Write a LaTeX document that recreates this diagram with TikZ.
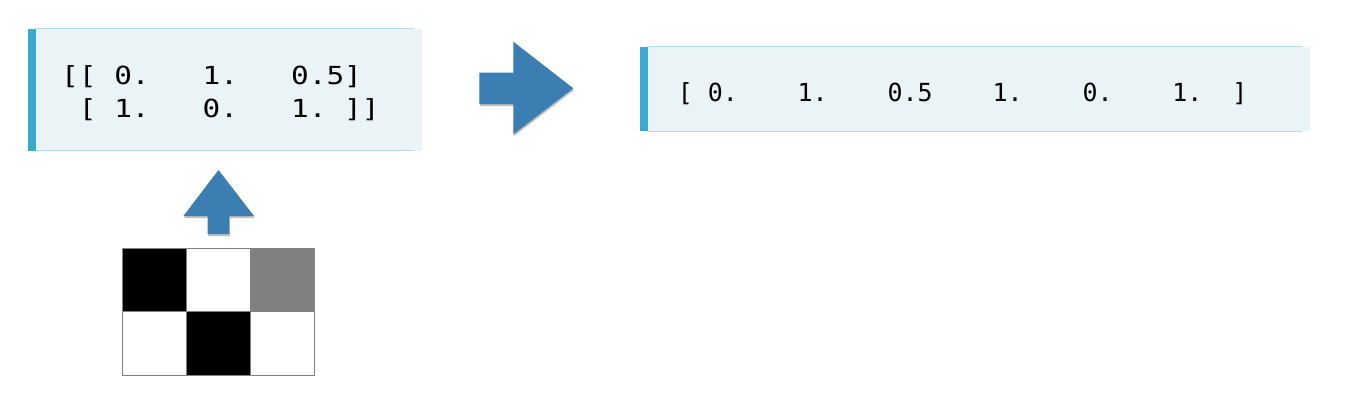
\documentclass[tikz,border=0pt]{standalone}
\usepackage{fontspec}
\newfontfamily\codefont{DejaVu Sans Mono}
\usetikzlibrary{shadows}
\definecolor{barblue}{RGB}{58,170,208}
\definecolor{boxfill}{RGB}{234,243,246}
\definecolor{boxline}{RGB}{180,220,234}
\definecolor{arrowblue}{RGB}{58,126,178}
\definecolor{midgray}{RGB}{128,128,128}
\definecolor{gridline}{RGB}{130,130,130}
\newcommand\myspc{\hphantom{0}}
\begin{document}
\begin{tikzpicture}[x=1pt,y=-1pt,
  codetext/.style={anchor=base west, inner sep=0pt, font=\codefont\fontsize{24.9}{30}\selectfont},
  bigarrow/.style={fill=arrowblue, draw=none, drop shadow={shadow xshift=0.5pt, shadow yshift=-2pt, opacity=0.25, fill=black}},
  boxedge/.style={draw=boxline, line width=1pt},
  cellline/.style={draw=gridline, line width=1pt}]
\useasboundingbox (0,0) rectangle (1354,410);
% left box
\fill[boxfill] (28,28.5) rectangle (422,150.5);
\draw[boxedge] (36,28.5) -- (414,28.5);
\draw[boxedge] (36,150.5) -- (414,150.5);
\fill[barblue] (28,28.5) rectangle (36,150.5);
\node[codetext] (l1) at (61,84) {\scalebox{1.18}[1]{[[\myspc0.\myspc\myspc\myspc1.\myspc\myspc\myspc0.5]}};
\node[codetext] (l2) at (61,117) {\scalebox{1.18}[1]{\myspc[\myspc1.\myspc\myspc\myspc0.\myspc\myspc\myspc1.\myspc]]}};
% right box
\fill[boxfill] (640,46.5) rectangle (1310,131);
\draw[boxedge] (647,46.5) -- (1302,46.5);
\draw[boxedge] (647,131) -- (1302,131);
\fill[barblue] (640,46.5) rectangle (647.5,131);
\node[codetext] (r1) at (677.6,101) {[\myspc0.\myspc\myspc\myspc\myspc1.\myspc\myspc\myspc\myspc0.5\myspc\myspc\myspc\myspc1.\myspc\myspc\myspc\myspc0.\myspc\myspc\myspc\myspc1.\myspc\myspc]};
% arrows
\fill[bigarrow] (479.3,72.7) -- (513.3,72.7) -- (513.3,41.7) -- (573.3,88.3) -- (513.3,134.3) -- (513.3,104) -- (479.3,104) -- cycle;
\fill[bigarrow] (218.5,170) -- (254,216) -- (229.3,216) -- (229.3,234) -- (207.6,234) -- (207.6,216) -- (183.4,216) -- cycle;
% grid image
\fill[black] (122,248) rectangle (186,311.5);
\fill[midgray] (250,248) rectangle (314,311.5);
\fill[black] (186,311.5) rectangle (250,375);
\draw[cellline] (186,248) -- (186,375);
\draw[cellline] (250,248) -- (250,375);
\draw[cellline] (122,311.5) -- (314,311.5);
\draw[cellline] (122,248) rectangle (314,375);
\end{tikzpicture}
\end{document}
